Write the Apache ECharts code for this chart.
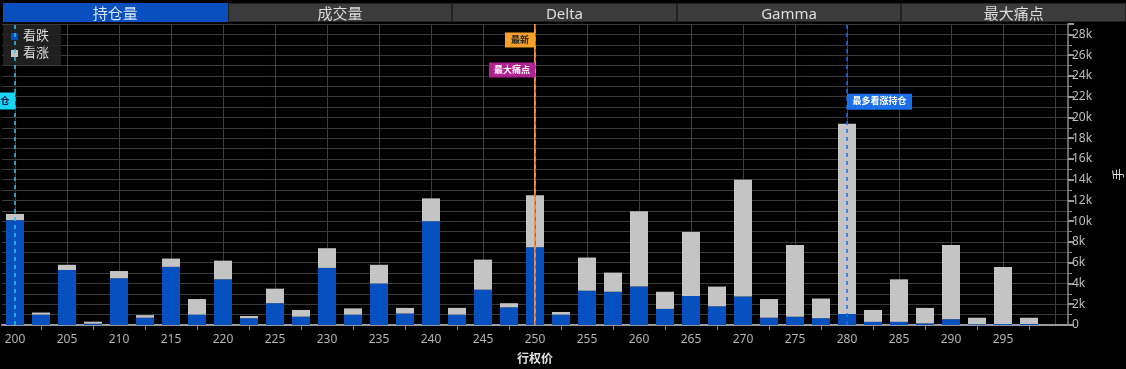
<!DOCTYPE html>
<html>
<head>
<meta charset="utf-8">
<script src="https://cdn.jsdelivr.net/npm/echarts@6/dist/echarts.min.js"></script>
<style>
html,body{margin:0;padding:0;background:#000;width:1126px;height:369px;overflow:hidden;}
#chart{position:absolute;left:0;top:0;width:1126px;height:369px;}
#tabs{position:absolute;left:3px;top:3px;width:1123px;height:19px;display:flex;z-index:5;}
#tabs div{flex:1;box-sizing:border-box;height:19px;line-height:18px;text-align:center;font-family:"Noto Sans","Noto Sans CJK SC",sans-serif;font-size:15px;color:#dcdcdc;background:#3b3b3b;border:1px solid #222;}
#tabs div.active{background:#0a4fc0;color:#d6e6ff;border-color:#0a4fc0;}
</style>
</head>
<body>
<div id="chart"></div>
<div id="tabs"></div>
<script>
// ---- data ----
const tabNames = ['持仓量', '成交量', 'Delta', 'Gamma', '最大痛点'];
const strikes = ['200','202.5','205','207.5','210','212.5','215','217.5','220','222.5',
  '225','227.5','230','232.5','235','237.5','240','242.5','245','247.5',
  '250','252.5','255','257.5','260','262.5','265','267.5','270','272.5',
  '275','277.5','280','282.5','285','287.5','290','292.5','295','297.5','300'];
const hiddenLabels = ['300'];
const putOI = [10100,1000,5300,120,4500,700,5600,1000,4400,650,
  2100,800,5500,1000,4000,1100,10000,1000,3400,1700,
  7500,1000,3300,3200,3700,1550,2800,1800,2750,700,
  800,650,1050,300,300,150,550,80,100,100];
const callOI = [600,200,500,200,700,250,800,1500,1800,220,
  1400,650,1900,600,1800,550,2200,650,2900,400,
  5000,250,3200,1850,7250,1650,6150,1900,11250,1800,
  6900,1900,18350,1150,4100,1500,7150,620,5500,600];
const seriesNames = ['看跌', '看涨'];
const maxPutStrike = '200', maxCallStrike = '280', lastStrike = '250', maxPainStrike = '250';
const markerLabels = {maxPut:'最多看跌持仓', maxCall:'最多看涨持仓', last:'最新', maxPain:'最大痛点'};
const markerY = {last:27460, maxPain:24560, maxPut:21570, maxCall:21500};
const xName = '行权价', yName = '手';

// tabs
const tabsEl = document.getElementById('tabs');
tabNames.forEach((t,i)=>{const d=document.createElement('div');d.textContent=t;if(i===0)d.className='active';tabsEl.appendChild(d);});

const font = '"Noto Sans","Noto Sans CJK SC",sans-serif';
const chart = echarts.init(document.getElementById('chart'));
chart.setOption({
  backgroundColor:'#000',
  animation:false,
  textStyle:{fontFamily:font},
  legend:{
    data:seriesNames, orient:'vertical', left:3, top:25,
    backgroundColor:'rgba(34,34,34,0.9)', padding:[5,12,5,8],
    itemWidth:7, itemHeight:7, itemGap:4, icon:'rect',
    textStyle:{color:'#dddddd', fontSize:13, fontFamily:font}
  },
  grid:{left:2, right:58, top:24, bottom:44, containLabel:false, outerBoundsMode:'none'},
  xAxis:{
    type:'category', data:strikes, boundaryGap:true,
    name:xName, nameLocation:'middle', nameGap:29,
    nameTextStyle:{color:'#e0e0e0', fontSize:12, fontWeight:'bold'},
    axisLine:{lineStyle:{color:'#9a9a9a', width:2}},
    axisTick:{show:true, alignWithLabel:true, interval:(i)=>i%2===1, length:5, lineStyle:{color:'#8a8a8a'}},
    axisLabel:{interval:1, color:'#b4b4b4', fontSize:12, margin:9,
      formatter:(v)=>hiddenLabels.includes(v)?'':v},
    splitLine:{show:true, alignWithLabel:true, interval:(i)=>i%2===0, lineStyle:{color:'#3c3c3c', width:1}}
  },
  yAxis:{
    type:'value', position:'right', min:0, max:29000, interval:2000,
    name:yName, nameLocation:'middle', nameGap:46,
    nameTextStyle:{color:'#e0e0e0', fontSize:12},
    axisLine:{show:true, lineStyle:{color:'#8a8a8a', width:1.5}},
    axisTick:{show:true, length:6, lineStyle:{color:'#9a9a9a', width:2}},
    minorTick:{show:true, splitNumber:2, length:4, lineStyle:{color:'#8a8a8a'}},
    axisLabel:{color:'#bdbdbd', fontSize:12, margin:4, showMaxLabel:false,
      formatter:(v)=> v%2000!==0 ? '' : (v===0?'0':(v/1000)+'k')},
    splitLine:{show:true, lineStyle:{color:'#3a3a3a'}},
    minorSplitLine:{show:true, lineStyle:{color:'#3a3a3a'}}
  },
  series:[
    {name:seriesNames[0], type:'bar', stack:'oi', data:putOI, barWidth:18,
      itemStyle:{color:'#0650c0'}},
    {name:seriesNames[1], type:'bar', stack:'oi', data:callOI, barWidth:18,
      itemStyle:{color:'#c4c4c4'}},
    {name:'markers', type:'line', data:[], silent:true,
      markLine:{silent:true, symbol:'none', label:{show:false},
        data:[
          {xAxis:maxPutStrike, lineStyle:{color:'#2bc6e6', type:[4,4], width:1.5}},
          {xAxis:maxCallStrike, lineStyle:{color:'#1c6fe8', type:[4,4], width:1.5}},
          {xAxis:lastStrike, lineStyle:{color:'#ee8a50', type:'solid', width:2}},
          {xAxis:maxPainStrike, lineStyle:{color:'#d4503a', type:[4,4], width:1}}
        ]},
      markPoint:{silent:true, symbol:'rect',
        label:{show:true, fontSize:9, fontWeight:'bold', fontFamily:font},
        data:[
          {coord:[lastStrike, markerY.last], symbolSize:[30,15], symbolOffset:['-50%',0],
            itemStyle:{color:'#f6a02c'}, label:{formatter:markerLabels.last, color:'#222'}},
          {coord:[maxPainStrike, markerY.maxPain], symbolSize:[46,15], symbolOffset:['-50%',0],
            itemStyle:{color:'#b0228f'}, label:{formatter:markerLabels.maxPain, color:'#fff'}},
          {coord:[maxCallStrike, markerY.maxCall], symbolSize:[65,16], symbolOffset:['50%',0],
            itemStyle:{color:'#1c6fe8'}, label:{formatter:markerLabels.maxCall, color:'#fff'}},
          {coord:[maxPutStrike, markerY.maxPut], symbolSize:[65,17], symbolOffset:['-50%',0],
            itemStyle:{color:'#18d6f2'}, label:{formatter:markerLabels.maxPut, color:'#114'}}
        ]}
    }
  ]
});
</script>
</body>
</html>
